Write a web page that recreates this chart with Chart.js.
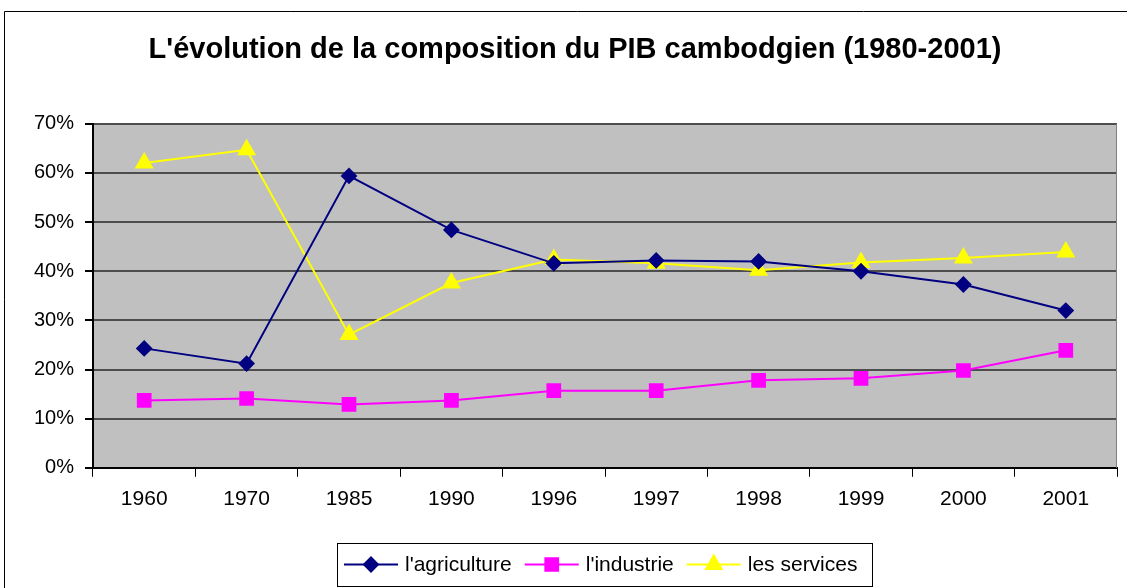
<!DOCTYPE html>
<html>
<head>
<meta charset="utf-8">
<script src="https://cdn.jsdelivr.net/npm/chart.js@4"></script>
<style>
  html, body { margin: 0; padding: 0; overflow: hidden; background: #fff; }
  canvas { position: absolute; left: 0; top: 0; }
</style>
</head>
<body>
<canvas id="pib" width="1150" height="588"></canvas>
<script>
const years = ['1960', '1970', '1985', '1990', '1996', '1997', '1998', '1999', '2000', '2001'];
const agriculture = [24.3, 21.2, 59.4, 48.4, 41.6, 42.2, 42.0, 40.0, 37.3, 32.0];
const industrie = [13.7, 14.1, 12.9, 13.7, 15.7, 15.7, 17.8, 18.2, 19.8, 23.9];
const services = [62.0, 64.7, 27.1, 37.6, 42.4, 41.6, 40.2, 41.8, 42.7, 43.9];
const yMax = 70;

const FONT = 'Arial, "Liberation Sans", sans-serif';

// fond gris de la zone de tracé + cadre extérieur
const plotBg = {
  id: 'plotBg',
  beforeDraw(chart) {
    const { ctx, chartArea: a } = chart;
    ctx.save();
    ctx.fillStyle = '#fff';
    ctx.fillRect(0, 0, chart.width, chart.height);
    ctx.fillStyle = '#c0c0c0';
    ctx.fillRect(a.left, a.top, a.right - a.left, a.bottom - a.top);
    ctx.strokeStyle = '#000';
    ctx.lineWidth = 1;
    ctx.beginPath();
    ctx.moveTo(4.5, chart.height);
    ctx.lineTo(4.5, 11.5);
    ctx.lineTo(chart.width, 11.5);
    ctx.stroke();
    ctx.restore();
  },
  afterDatasetsDraw(chart) {
    const { ctx, chartArea: a } = chart;
    ctx.save();
    ctx.strokeStyle = '#808080';
    ctx.lineWidth = 1;
    ctx.beginPath();
    ctx.moveTo(a.right - 0.5, a.top);
    ctx.lineTo(a.right - 0.5, a.bottom);
    ctx.stroke();
    ctx.restore();
  }
};

// légende encadrée façon Excel (ligne + marqueur)
const boxLegend = {
  id: 'boxLegend',
  afterDraw(chart) {
    const { ctx, chartArea: a } = chart;
    const sets = chart.data.datasets;
    const lineW = 54, gapText = 7, gapItem = 13, padL = 7, padR = 15;
    ctx.save();
    ctx.font = '21px ' + FONT;
    let total = padL + padR;
    sets.forEach((ds, i) => {
      total += lineW + gapText + ctx.measureText(ds.label).width;
      if (i < sets.length - 1) total += gapItem;
    });
    const left = Math.round((a.left + a.right) / 2 - total / 2);
    const top = 543, h = 43;
    ctx.fillStyle = '#fff';
    ctx.fillRect(left, top, total, h);
    ctx.strokeStyle = '#000';
    ctx.lineWidth = 1;
    ctx.strokeRect(left + 0.5, top + 0.5, Math.round(total), h);
    let x = left + padL;
    const y = top + h / 2;
    sets.forEach(ds => {
      ctx.strokeStyle = ds.borderColor;
      ctx.lineWidth = 2;
      ctx.beginPath();
      ctx.moveTo(x, y);
      ctx.lineTo(x + lineW, y);
      ctx.stroke();
      ctx.fillStyle = ds.pointBackgroundColor;
      ctx.strokeStyle = ds.pointBorderColor;
      Chart.helpers.drawPoint(ctx, {
        pointStyle: ds.pointStyle, radius: ds.pointRadius, borderWidth: 1, rotation: 0
      }, x + lineW / 2, y);
      x += lineW + gapText;
      ctx.fillStyle = '#000';
      ctx.textBaseline = 'middle';
      ctx.textAlign = 'left';
      ctx.fillText(ds.label, x, y + 1);
      x += ctx.measureText(ds.label).width + gapItem;
    });
    ctx.restore();
  }
};

new Chart(document.getElementById('pib'), {
  type: 'line',
  data: {
    labels: years,
    datasets: [{
      label: "l'agriculture",
      data: agriculture,
      borderColor: '#000080',
      borderWidth: 2,
      pointStyle: 'rectRot',
      pointRadius: 7,
      pointBackgroundColor: '#000080',
      pointBorderColor: '#000080'
    }, {
      label: "l'industrie",
      data: industrie,
      borderColor: '#ff00ff',
      borderWidth: 2,
      pointStyle: 'rect',
      pointRadius: 9,
      pointBackgroundColor: '#ff00ff',
      pointBorderColor: '#ff00ff'
    }, {
      label: 'les services',
      data: services,
      borderColor: '#ffff00',
      borderWidth: 2,
      pointStyle: 'triangle',
      pointRadius: 9,
      pointBackgroundColor: '#ffff00',
      pointBorderColor: '#ffff00'
    }]
  },
  options: {
    responsive: false,
    animation: false,
    layout: { padding: { left: 33, right: 33, top: 0, bottom: 66 } },
    plugins: {
      legend: { display: false },
      tooltip: { enabled: false },
      title: {
        display: true,
        text: "L'évolution de la composition du PIB cambodgien (1980-2001)",
        color: '#000',
        font: { family: FONT, size: 29, weight: 'bold' },
        padding: { top: 33, bottom: 56 }
      }
    },
    scales: {
      x: {
        offset: true,
        grid: { offset: true, drawOnChartArea: false, color: '#000', tickLength: 9 },
        border: { color: '#000', width: 2 },
        ticks: { color: '#000', font: { family: FONT, size: 21 }, padding: 10, maxRotation: 0 }
      },
      y: {
        min: 0,
        max: yMax,
        afterFit(scale) { scale.width = 60; },
        grid: { color: '#4d4d4d', lineWidth: 2, tickColor: '#000', tickLength: 8 },
        border: { color: '#000', width: 2 },
        ticks: {
          stepSize: 10,
          color: '#000',
          font: { family: FONT, size: 20 },
          padding: 11,
          callback: v => v + '%'
        }
      }
    }
  },
  plugins: [plotBg, boxLegend]
});
</script>
</body>
</html>
